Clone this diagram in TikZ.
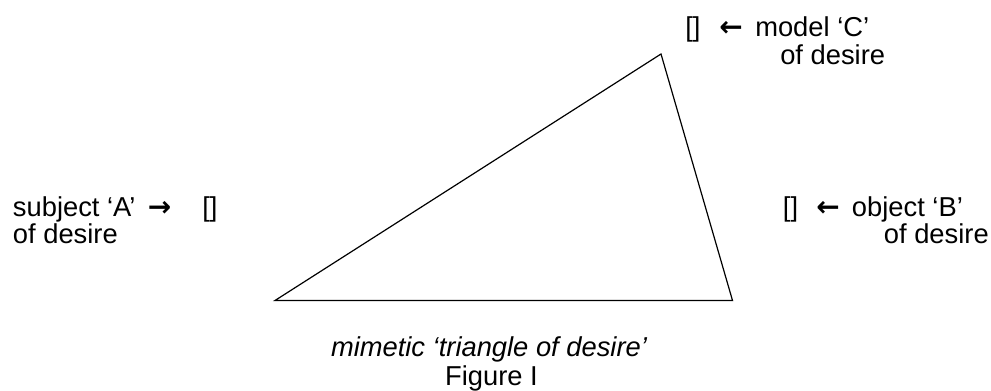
\documentclass[tikz,border=0pt]{standalone}
\usepackage{fontspec}
\setmainfont{Liberation Sans}
\newfontfamily\arrowfont{DejaVu Sans}[BoldFont={DejaVu Sans Bold}]
\begin{document}
\begin{tikzpicture}[x=0.75pt,y=-0.75pt,
  lbl/.style={inner sep=0pt,font=\fontsize{20.5}{24}\selectfont},
  arr/.style={inner sep=0pt,font=\fontsize{21}{24}\arrowfont\bfseries},
  edge/.style={draw=black,line width=0.9pt,line join=miter}]
\useasboundingbox (0,0) rectangle (991,391);
\coordinate (A) at (275,300.5);
\coordinate (C) at (661,54);
\coordinate (B) at (732.5,300.5);
\draw[edge] (A) -- (C) -- (B) -- cycle;
% model C
\node[lbl,anchor=base west] (cb) at (685,36.7) {[]};
\node[arr,anchor=base west] (ca) at (719,36.7) {←};
\node[lbl,anchor=base west] (cl1) at (755,36.7) {model ‘C’};
\node[lbl,anchor=base west] (cl2) at (780,65) {of desire};
% subject A
\node[lbl,anchor=base west] (al1) at (12.7,216.7) {subject ‘A’};
\node[arr,anchor=base west] (aa) at (147.5,216.7) {→};
\node[lbl,anchor=base west] (ab) at (202,216.7) {[]};
\node[lbl,anchor=base west] (al2) at (12.7,244) {of desire};
% object B
\node[lbl,anchor=base west] (bb) at (782.7,216.7) {[]};
\node[arr,anchor=base west] (ba) at (816,216.7) {←};
\node[lbl,anchor=base west] (bl1) at (851.7,216.7) {object ‘B’};
\node[lbl,anchor=base east] (bl2) at (989,244) {of desire};
% caption
\node[lbl,anchor=base] (cap1) at (489,356.7) {\itshape mimetic ‘triangle of desire’};
\node[lbl,anchor=base] (cap2) at (491.5,385.7) {Figure I};
\end{tikzpicture}
\end{document}
